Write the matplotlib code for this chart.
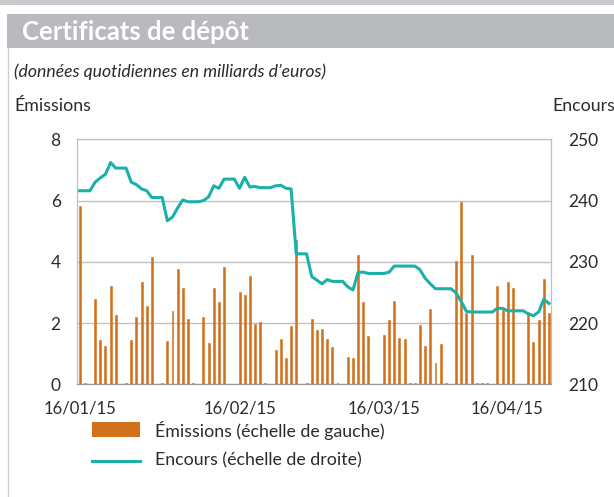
import numpy as np
import pandas as pd
import matplotlib
matplotlib.use('Agg')
import matplotlib.pyplot as plt
import matplotlib.dates as mdates
from matplotlib.patches import Rectangle
from matplotlib.lines import Line2D

plt.rcParams['font.family'] = ['Lato', 'DejaVu Sans']

# jours calendaires du 16/01/15 au 17/04/15
jours = pd.date_range('2015-01-16', '2015-04-17', freq='D')

# émissions quotidiennes (échelle de gauche, Md EUR)
emissions = [
    5.81, 0.04, 0.00, 2.79, 1.45, 1.25, 3.22, 2.25, 0.00, 0.04, 1.45, 2.20, 3.35, 2.56, 4.17, 0.00,
    0.04, 1.43, 2.40, 3.78, 3.16, 2.14, 0.04, 0.00, 2.21, 1.36, 3.15, 2.69, 3.82, 0.00,
    0.00, 3.02, 2.93, 3.52, 1.97, 2.04, 0.04, 0.00, 1.13, 1.48, 0.86, 1.89, 4.72, 0.00,
    0.04, 2.14, 1.76, 1.81, 1.48, 1.23, 0.04, 0.00, 0.89, 0.86, 4.21, 2.69, 1.59, 0.00,
    0.00, 1.62, 2.10, 2.73, 1.52, 1.48, 0.04, 0.04, 1.94, 1.25, 2.46, 0.71, 1.31, 0.04,
    0.00, 4.02, 5.95,
    2.34, 4.23, 0.04, 0.04, 0.04, 0.00, 3.20, 2.44, 3.33, 3.15, 0.00, 0.00, 2.36, 1.38,
    2.10, 3.45, 2.33,
]

# encours (échelle de droite, Md EUR)
encours = [
    241.6, 241.6, 241.6, 243.0, 243.7, 244.3, 246.2, 245.3, 245.3, 245.3, 243.0, 242.6,
    241.9, 241.6, 240.5, 240.5,
    240.5, 236.7, 237.3, 238.8, 240.1, 239.8, 239.8, 239.8, 240.0, 240.6, 242.4, 242.0,
    243.5, 243.5, 243.5, 242.0, 243.8, 242.2, 242.3, 242.1, 242.1, 242.1, 242.4, 242.5,
    242.0, 241.9, 231.3, 231.3,
    231.3, 227.6, 227.0, 226.4, 227.1, 226.8, 226.8, 226.8, 225.9, 225.4, 228.3, 228.3,
    228.1, 228.1, 228.1, 228.1, 228.3, 229.3, 229.3, 229.3, 229.3, 229.3, 228.7, 227.3,
    226.4, 225.6, 225.6, 225.6, 225.6, 224.9, 223.5,
    221.9, 221.8, 221.8, 221.8, 221.8, 221.8, 222.4, 222.4, 222.0, 222.0, 222.0, 222.0,
    221.5, 221.2, 221.8, 223.9, 223.2,
]

dates_ticks = ['2015-01-16', '2015-02-16', '2015-03-16', '2015-04-16']

orange = '#D2711C'
turquoise = '#1BB0A9'
gris_grille = '#C0C0C0'
texte = '#2B2B2B'
fs_txt = 12.8
fs_tick = 12.5

W, H = 614, 497
fig = plt.figure(figsize=(W / 100, H / 100), dpi=100)

# habillage en coordonnées pixels
deco = fig.add_axes([0, 0, 1, 1])
deco.set_xlim(0, W)
deco.set_ylim(H, 0)
deco.axis('off')
deco.add_patch(Rectangle((0, 0), W, 5, color='#C8C9CC', lw=0))
deco.add_patch(Rectangle((7, 14), W - 7, 34, color='#B8BABD', lw=0))
deco.add_line(Line2D([7.5, 7.5], [48, H], color='#D0D0D0', lw=1))
deco.text(22, 31.5, 'Certificats de dépôt', color='white', fontsize=18.5,
          fontweight='bold', va='center', ha='left')
deco.text(14, 72, '(données quotidiennes en milliards d\u2019euros)', color=texte,
          fontsize=12.7, style='italic', va='center', ha='left')
deco.text(14, 106, 'Émissions', color=texte, fontsize=fs_txt, va='center', ha='left')
deco.text(552, 106, 'Encours', color=texte, fontsize=fs_txt, va='center', ha='left')

# légende
deco.add_patch(Rectangle((92, 422), 48, 15, color=orange, lw=0))
deco.text(155, 430, 'Émissions (échelle de gauche)', color=texte, fontsize=fs_txt,
          va='center', ha='left')
deco.add_line(Line2D([92, 140], [461, 461], color=turquoise, lw=2.2))
deco.text(155, 460, 'Encours (échelle de droite)', color=texte, fontsize=fs_txt,
          va='center', ha='left')

ax = fig.add_axes([77.3 / W, 1 - 384.3 / H, (551.3 - 77.3) / W, (384.3 - 139.3) / H])
ax.bar(jours, emissions, width=0.38, color=orange, edgecolor=orange, lw=0.4, zorder=2)
ax.set_ylim(0, 8)
ax.set_yticks(np.arange(0, 9, 2))
ax.set_xlim(jours[0] - pd.Timedelta(hours=11), jours[-1] + pd.Timedelta(hours=11))
ax.grid(axis='y', color=gris_grille, lw=1, zorder=0)
ax.set_axisbelow(True)

ax2 = ax.twinx()
ax2.plot(jours, encours, color=turquoise, lw=2.2, zorder=3)
ax2.set_ylim(210, 250)
ax2.set_yticks(np.arange(210, 251, 10))

ticks = pd.to_datetime(dates_ticks)
ax.set_xticks(ticks)
ax.set_xticklabels([d.strftime('%d/%m/%y') for d in ticks])

for a in (ax, ax2):
    a.tick_params(length=0, labelsize=fs_tick, colors=texte)
    for s in a.spines.values():
        s.set_color(gris_grille)
    a.spines['bottom'].set_color('#9A9A9A')
ax.tick_params(axis='x', labelsize=12, pad=12)
ax.tick_params(axis='y', pad=12)
ax2.tick_params(axis='y', pad=12)

# dernière date calée sur le bord droit du graphique
dernier = ax.get_xticklabels()[-1]
dernier.set_ha('right')
dernier.set_x(mdates.date2num(jours[-1]))

fig.savefig('out.png', dpi=100)
